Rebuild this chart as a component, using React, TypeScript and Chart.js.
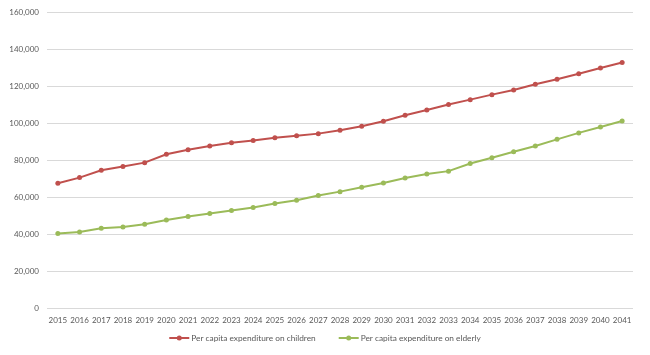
import React, { useEffect, useRef } from "react";
import { Chart, registerables } from "chart.js";

Chart.register(...registerables);

const years = [
  "2015", "2016", "2017", "2018", "2019", "2020", "2021", "2022", "2023",
  "2024", "2025", "2026", "2027", "2028", "2029", "2030", "2031", "2032",
  "2033", "2034", "2035", "2036", "2037", "2038", "2039", "2040", "2041",
];

const childrenValues = [
  67700, 70800, 74800, 76800, 78900, 83400, 85900, 87900, 89700,
  90900, 92400, 93500, 94600, 96400, 98600, 101300, 104500, 107400,
  110400, 113000, 115700, 118200, 121300, 124000, 127000, 130100, 133100,
];

const elderlyValues = [
  40500, 41400, 43400, 44100, 45600, 47900, 49700, 51400, 53000,
  54600, 56800, 58500, 61100, 63200, 65600, 67900, 70600, 72800,
  74300, 78400, 81500, 84800, 87900, 91500, 95000, 98200, 101400,
];

const seriesNames = [
  "Per capita expenditure on children",
  "Per capita expenditure on elderly",
];

const RED = "#C0504D";
const GREEN = "#9BBB59";
const TEXT = "#595959";
const FONT_FAMILY = "Lato, 'Open Sans', sans-serif";

const bottomLegend = {
  id: "bottomLegend",
  afterDraw(chart: any) {
    const ctx = chart.ctx as CanvasRenderingContext2D;
    const ds = chart.data.datasets;
    ctx.save();
    ctx.font = `8.3px ${FONT_FAMILY}`;
    ctx.textBaseline = "middle";
    ctx.textAlign = "left";
    const lineW = 20;
    const gapText = 2;
    const gapItem = 23;
    const widths = ds.map((d: any) => ctx.measureText(d.label).width);
    const total =
      widths.reduce((a: number, w: number) => a + lineW + gapText + w, 0) +
      gapItem * (ds.length - 1);
    let x = chart.width / 2 - total / 2;
    const y = 338;
    ds.forEach((d: any, i: number) => {
      const color = d.borderColor;
      ctx.strokeStyle = color;
      ctx.lineWidth = 2;
      ctx.beginPath();
      ctx.moveTo(x, y);
      ctx.lineTo(x + lineW, y);
      ctx.stroke();
      ctx.fillStyle = color;
      ctx.beginPath();
      ctx.arc(x + lineW / 2, y, 2.5, 0, Math.PI * 2);
      ctx.fill();
      x += lineW + gapText;
      ctx.fillStyle = TEXT;
      ctx.fillText(d.label, x, y + 0.5);
      x += widths[i] + gapItem;
    });
    ctx.restore();
  },
};

export default function App() {
  const ref = useRef<HTMLCanvasElement | null>(null);

  useEffect(() => {
    document.body.style.margin = "0";
    const canvas = ref.current;
    if (!canvas) return;
    const font = { family: FONT_FAMILY, size: 8 };
    const chart = new Chart(canvas, {
      type: "line",
      data: {
        labels: years,
        datasets: [
          {
            label: seriesNames[0],
            data: childrenValues,
            borderColor: RED,
            backgroundColor: RED,
            borderWidth: 2,
            pointRadius: 2.5,
            pointBorderWidth: 0,
            pointBackgroundColor: RED,
            tension: 0,
          },
          {
            label: seriesNames[1],
            data: elderlyValues,
            borderColor: GREEN,
            backgroundColor: GREEN,
            borderWidth: 2,
            pointRadius: 2.5,
            pointBorderWidth: 0,
            pointBackgroundColor: GREEN,
            tension: 0,
          },
        ],
      },
      options: {
        responsive: false,
        animation: false,
        layout: { padding: { left: 0, right: 17, top: 4, bottom: 23 } },
        plugins: {
          tooltip: { enabled: false },
          legend: { display: false },
        },
        scales: {
          x: {
            offset: true,
            grid: { display: false, drawTicks: false },
            border: { display: false },
            ticks: { color: TEXT, font, padding: 7, maxRotation: 0, autoSkip: false },
          },
          y: {
            min: 0,
            max: 160000,
            grid: { color: "#D9D9D9", lineWidth: 1, drawTicks: false },
            border: { display: false },
            ticks: {
              stepSize: 20000,
              color: TEXT,
              font,
              padding: 8,
              callback: (v: any) => Number(v).toLocaleString("en-US"),
            },
            afterFit: (scale: any) => {
              scale.width = 47;
            },
          },
        },
      },
      plugins: [bottomLegend],
    });
    return () => chart.destroy();
  }, []);

  return (
    <div style={{ width: 650, height: 355 }}>
      <canvas ref={ref} width={650} height={355} />
    </div>
  );
}
